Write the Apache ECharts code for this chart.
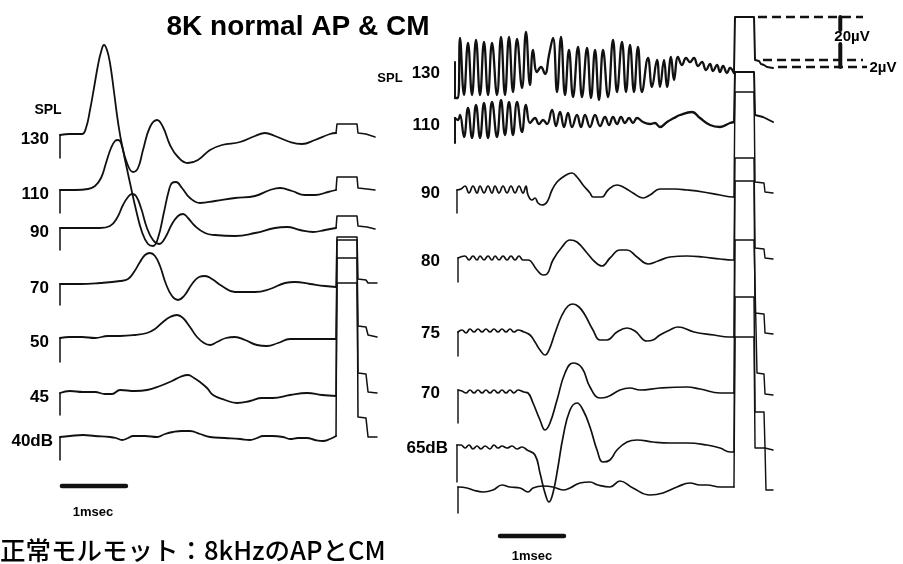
<!DOCTYPE html>
<html><head><meta charset="utf-8">
<script src="https://cdn.jsdelivr.net/npm/echarts@6/dist/echarts.min.js"></script>
<style>html,body{margin:0;padding:0;background:#fff}#c{width:903px;height:564px}</style>
</head><body><div id="c"></div>
<script>
// ---------- DATA (time in ms, deflection in display units, upward positive) ----------
const titleText = '8K normal AP & CM';
const captionText = '正常モルモット：8kHzのAPとCM';
const leftLabels = ['130', '110', '90', '70', '50', '45', '40dB'];
const rightLabels = ['130', '110', '90', '80', '75', '70', '65dB', ''];
const scaleBarMs = 1;
const calTexts = ['20µV', '2µV'];
const calLevels = [53, 10, 3];  // levels of the 130 dB CM calibration pulse

const L130 = [[0,-23],[0,0],[0.156,1],[0.344,1],[0.406,7],[0.469,25],[0.531,47],[0.594,70],[0.641,83],[0.688,90],[0.734,85],[0.781,72],[0.844,43],[0.906,13],[0.969,-10],[1.047,-28],[1.141,-37],[1.219,-33],[1.297,-15],[1.406,8],[1.516,15],[1.609,8],[1.719,-10],[1.844,-22],[2.0,-28],[2.156,-25],[2.344,-15],[2.531,-10],[2.813,-7],[3.047,-1],[3.203,2],[3.359,-1],[3.594,-7],[3.781,-9],[3.984,-5],[4.219,1],[4.313,2],[4.328,11],[4.641,11],[4.656,2],[4.781,1],[4.922,-2]];
const L110 = [[0,-23],[0,0],[0.234,0],[0.438,1],[0.547,4],[0.641,12],[0.719,27],[0.797,42],[0.859,49],[0.906,50],[0.953,47],[1.016,30],[1.094,7],[1.188,-20],[1.281,-42],[1.375,-54],[1.453,-56],[1.531,-48],[1.625,-22],[1.703,0],[1.75,7],[1.813,8],[1.906,2],[2.031,-8],[2.188,-13],[2.422,-11],[2.734,-8],[3.047,-6],[3.281,0],[3.438,2],[3.625,-1],[3.828,-5],[3.984,-5],[4.188,-2],[4.313,0],[4.328,13],[4.641,13],[4.656,2],[4.797,1],[4.922,0]];
const L90 = [[0,-22],[0,0],[0.313,0],[0.625,0],[0.781,2],[0.891,10],[0.984,23],[1.063,31],[1.125,34],[1.188,32],[1.266,20],[1.359,0],[1.453,-12],[1.547,-16],[1.641,-10],[1.75,4],[1.844,12],[1.922,14],[2.0,10],[2.109,2],[2.266,-5],[2.422,-7],[2.734,-8],[3.047,-5],[3.359,0],[3.547,1],[3.75,-2],[3.953,-4],[4.141,-2],[4.313,0],[4.328,12],[4.641,12],[4.656,2],[4.797,1],[4.922,-1]];
const L70 = [[0,-21],[0,0],[0.313,0],[0.625,1],[0.938,3],[1.063,5],[1.156,12],[1.25,22],[1.328,29],[1.406,31],[1.484,28],[1.563,18],[1.656,0],[1.75,-12],[1.844,-16],[1.938,-12],[2.063,0],[2.172,7],[2.266,8],[2.375,5],[2.531,-2],[2.734,-8],[3.047,-8],[3.281,-5],[3.516,1],[3.672,2],[3.906,0],[4.141,-2],[4.313,-3],[4.328,47],[4.641,47],[4.656,5],[4.781,4],[4.813,1],[4.953,1]];
const L50 = [[0,-24],[0,0],[0.156,1],[0.344,1],[0.547,0],[0.75,2],[0.938,2],[1.172,3],[1.359,5],[1.484,9],[1.609,16],[1.719,21],[1.828,23],[1.922,20],[2.031,11],[2.141,1],[2.25,-5],[2.344,-7],[2.453,-4],[2.594,0],[2.734,1],[2.891,-2],[3.078,-7],[3.234,-8],[3.406,-5],[3.594,-1],[3.828,-1],[4.109,-1],[4.313,-1],[4.328,80],[4.641,80],[4.656,12],[4.781,11],[4.813,3],[4.953,1]];
const L45 = [[0,-22],[0,0],[0.156,2],[0.359,1],[0.547,1],[0.703,-1],[0.813,-1],[0.938,3],[1.172,2],[1.359,3],[1.563,7],[1.75,12],[1.875,16],[2.0,18],[2.094,15],[2.188,11],[2.297,5],[2.391,-2],[2.578,-7],[2.766,-10],[2.969,-8],[3.156,-5],[3.328,-5],[3.594,-2],[3.859,0],[4.094,-2],[4.313,-3],[4.328,110],[4.641,110],[4.656,20],[4.781,19],[4.813,1],[4.953,0]];
const L40 = [[0,-23],[0,0],[0.156,1],[0.359,2],[0.547,1],[0.781,0],[0.875,-1],[0.969,-3],[1.063,-1],[1.141,1],[1.328,1],[1.516,0],[1.641,3],[1.766,5],[1.906,6],[2.031,6],[2.188,3],[2.344,0],[2.578,-1],[2.813,-2],[2.969,-3],[3.078,-1],[3.172,1],[3.313,1],[3.484,0],[3.594,-2],[3.719,-1],[3.859,-1],[3.984,-3],[4.109,-4],[4.219,-2],[4.313,1],[4.328,197],[4.641,197],[4.656,20],[4.781,19],[4.813,0],[4.953,0]];

const R130 = [[0,8],[0,-28],[0.047,-28],[0.078,32],[0.141,-25],[0.203,27],[0.266,-25],[0.328,30],[0.391,-25],[0.453,28],[0.516,-25],[0.578,27],[0.656,-25],[0.719,33],[0.781,-25],[0.844,33],[0.906,-22],[0.969,31],[1.047,-18],[1.109,38],[1.172,-15],[1.219,20],[1.281,-2],[1.344,3],[1.406,-4],[1.469,15],[1.531,32],[1.594,-22],[1.656,33],[1.719,-25],[1.781,20],[1.844,-27],[1.922,23],[1.984,-27],[2.063,22],[2.125,-28],[2.188,20],[2.25,-30],[2.313,20],[2.391,-27],[2.469,30],[2.531,-22],[2.609,28],[2.672,-22],[2.734,25],[2.797,-22],[2.859,23],[2.922,-22],[3.016,12],[3.078,-17],[3.156,10],[3.203,-17],[3.266,10],[3.313,-17],[3.375,13],[3.422,-10],[3.484,13],[3.547,5],[3.609,12],[3.672,8],[3.734,12],[3.797,4],[3.859,8],[3.922,0],[3.984,6],[4.031,-1],[4.094,5],[4.141,-2],[4.188,4],[4.25,-3],[4.297,2],[4.359,-3],[4.375,53],[4.672,53],[4.688,10],[4.75,9],[4.781,6],[4.828,5],[4.875,3],[4.969,2]];
const R110 = [[0,-21],[0,4],[0.047,2],[0.078,7],[0.141,-15],[0.203,14],[0.266,-16],[0.328,17],[0.391,-16],[0.453,19],[0.516,-16],[0.578,20],[0.656,-15],[0.719,22],[0.781,-13],[0.844,20],[0.906,-13],[0.969,20],[1.047,-10],[1.109,17],[1.172,-1],[1.25,4],[1.313,-2],[1.375,2],[1.438,-2],[1.516,12],[1.578,-4],[1.641,10],[1.703,-5],[1.766,9],[1.828,-5],[1.906,7],[1.969,-5],[2.031,7],[2.109,-5],[2.188,7],[2.266,-4],[2.344,5],[2.406,-3],[2.469,5],[2.531,-2],[2.594,5],[2.656,-1],[2.719,4],[2.781,-1],[2.844,4],[2.938,0],[3.047,-2],[3.125,-1],[3.203,-5],[3.313,0],[3.422,4],[3.516,7],[3.703,10],[3.828,4],[3.984,-3],[4.141,-5],[4.297,-1],[4.359,0],[4.375,50],[4.672,50],[4.688,7],[4.813,5],[4.969,0]];
const R90 = [[0.031,-23],[0.031,0],[0.094,1],[0.156,4],[0.219,-3],[0.281,4],[0.344,-3],[0.391,4],[0.453,-3],[0.516,4],[0.578,-3],[0.625,4],[0.688,-3],[0.75,4],[0.813,-3],[0.875,4],[0.938,-3],[1.0,4],[1.063,-3],[1.109,4],[1.141,-5],[1.203,-10],[1.25,-8],[1.297,-13],[1.359,-15],[1.438,-12],[1.516,0],[1.594,8],[1.688,13],[1.766,16],[1.828,17],[1.906,13],[2.0,5],[2.109,-3],[2.156,-7],[2.219,-7],[2.297,-7],[2.391,0],[2.531,5],[2.656,2],[2.781,-3],[2.938,-8],[3.047,-5],[3.203,1],[3.438,1],[3.625,0],[3.875,-2],[4.141,-5],[4.344,-7],[4.359,-7],[4.375,98],[4.672,98],[4.688,8],[4.828,7],[4.844,-2],[4.969,-3]];
const R80 = [[0.047,-24],[0.047,0],[0.156,2],[0.219,-2],[0.281,2],[0.344,-2],[0.391,2],[0.453,-2],[0.516,2],[0.578,-2],[0.625,2],[0.688,-2],[0.75,2],[0.813,-2],[0.875,2],[0.938,-2],[1.0,2],[1.063,-2],[1.141,-2],[1.281,-12],[1.375,-17],[1.438,-16],[1.531,-2],[1.672,11],[1.797,18],[1.906,16],[2.063,5],[2.188,-4],[2.297,-8],[2.422,0],[2.578,8],[2.688,8],[2.844,1],[3.016,-6],[3.172,-3],[3.359,1],[3.625,2],[3.875,1],[4.141,-1],[4.328,-2],[4.359,-2],[4.375,100],[4.672,100],[4.688,10],[4.828,9],[4.844,0],[4.969,-1]];
const R75 = [[0.047,-26],[0.047,-2],[0.109,0],[0.172,-3],[0.234,1],[0.297,-2],[0.359,1],[0.422,-2],[0.484,1],[0.547,-2],[0.609,1],[0.672,-2],[0.734,1],[0.797,-2],[0.859,1],[0.922,-2],[0.984,0],[1.078,-2],[1.172,-5],[1.25,-12],[1.328,-20],[1.406,-25],[1.469,-20],[1.563,-3],[1.672,15],[1.766,24],[1.844,26],[1.938,23],[2.031,15],[2.156,0],[2.266,-10],[2.375,-10],[2.531,-2],[2.688,2],[2.813,-1],[3.0,-11],[3.094,-10],[3.203,-5],[3.359,0],[3.484,3],[3.734,-2],[4.047,-5],[4.281,-7],[4.359,-7],[4.375,149],[4.672,149],[4.688,17],[4.828,16],[4.844,-3],[4.969,-4]];
const R70 = [[0.047,-33],[0.047,0],[0.109,-1],[0.172,-3],[0.234,0],[0.297,-3],[0.359,0],[0.422,-3],[0.484,0],[0.547,-3],[0.609,0],[0.672,-3],[0.734,0],[0.797,-3],[0.859,0],[0.922,-3],[0.984,0],[1.078,-2],[1.141,-3],[1.219,-13],[1.328,-30],[1.406,-40],[1.484,-33],[1.594,-10],[1.719,17],[1.844,27],[1.984,22],[2.109,3],[2.266,-8],[2.375,-7],[2.578,0],[2.734,2],[2.891,0],[3.203,2],[3.625,3],[3.828,1],[4.141,-3],[4.328,-3],[4.359,-3],[4.375,150],[4.672,150],[4.719,17],[4.828,16],[4.844,-4],[4.969,-5]];
const R65 = [[0.031,-37],[0.031,0],[0.094,0],[0.156,-3],[0.219,0],[0.281,-4],[0.344,-1],[0.406,-4],[0.469,-1],[0.547,-4],[0.609,0],[0.672,-3],[0.734,-1],[0.813,-3],[0.891,-1],[0.969,-4],[1.047,-2],[1.125,-5],[1.25,-10],[1.328,-28],[1.406,-48],[1.469,-57],[1.531,-48],[1.609,-22],[1.688,8],[1.797,35],[1.906,42],[2.0,35],[2.109,18],[2.219,-5],[2.313,-17],[2.422,-15],[2.531,-5],[2.688,3],[2.844,5],[3.094,3],[3.359,2],[3.625,2],[3.938,0],[4.141,-3],[4.297,-7],[4.344,-7],[4.359,-7],[4.375,148],[4.672,148],[4.688,33],[4.828,33],[4.844,-3],[4.875,-5],[4.969,-5]];
const RB = [[0.047,-23],[0.047,3],[0.188,2],[0.281,0],[0.438,-2],[0.594,0],[0.734,5],[0.859,3],[1.016,2],[1.141,-2],[1.219,2],[1.375,4],[1.531,3],[1.688,0],[1.797,2],[1.953,7],[2.109,8],[2.234,5],[2.422,3],[2.578,9],[2.781,2],[3.047,-5],[3.25,-3],[3.469,3],[3.672,7],[3.828,5],[3.938,5],[4.141,3],[4.344,3],[4.359,3],[4.375,153],[4.672,153],[4.688,42],[4.844,42],[4.859,0],[4.969,0]];

const leftTraces = [L130, L110, L90, L70, L50, L45, L40];
const rightTraces = [R130, R110, R90, R80, R75, R70, R65, RB];

// ---------- LAYOUT ----------
const INK = '#111';
const leftBase = [135, 190, 228, 284, 338, 393, 437];
const rightBase = [70, 122, 190, 258, 330, 390, 445, 490];
const leftOnset = 4.313, rightOnset = 4.359;
const leftBar = {t0: 0.03, y: 486}, rightBar = {t0: 0.703, y: 536};

const chart = echarts.init(document.getElementById('c'), null, {renderer: 'canvas'});
const series = [];
function line(grid, pts, smooth, width, extra) {
  series.push(Object.assign({
    type: 'line', xAxisIndex: grid, yAxisIndex: grid, data: pts, symbol: 'none',
    smooth: smooth, clip: false, silent: true, animation: false,
    lineStyle: {color: INK, width: width, cap: 'round', join: 'round'}
  }, extra || {}));
}
function addTrace(grid, data, base, onset, width) {
  const pts = data.map(([t, v]) => [t, base - v]);
  const k = pts.findIndex(p => p[0] >= onset - 1e-6);
  line(grid, pts.slice(0, 2), false, width * 0.85);
  line(grid, pts.slice(1, k + 1), 0.45, width);
  line(grid, pts.slice(k), false, width * 0.85);
}
leftTraces.forEach((d, i) => addTrace(0, d, leftBase[i], leftOnset, 1.8));
rightTraces.forEach((d, i) => addTrace(1, d, rightBase[i], rightOnset, i < 2 ? 2.3 : 1.7));

// scale bars (1 ms)
line(0, [[leftBar.t0, leftBar.y], [leftBar.t0 + scaleBarMs, leftBar.y]], false, 4.5);
line(1, [[rightBar.t0, rightBar.y], [rightBar.t0 + scaleBarMs, rightBar.y]], false, 4.5);

// calibration dashed lines (20 µV / 2 µV) from the 130 dB CM pulse levels
const calY = calLevels.map(v => rightBase[0] - v);
const dash = {lineStyle: {color: INK, width: 2.4, type: [9, 5]}};
line(1, [[4.734, calY[0]], [6.375, calY[0]]], false, 2.4, dash);
line(1, [[4.813, calY[1]], [6.375, calY[1]]], false, 2.4, dash);
line(1, [[5.047, calY[2]], [6.438, calY[2]]], false, 2.4, dash);
const barT = 6.02;
line(1, [[barT, calY[0]], [barT, calY[0] + 13]], false, 4);
line(1, [[barT, calY[0] + 27], [barT, calY[2]]], false, 4);

const FONT = '"Liberation Sans", Arial, Helvetica, sans-serif';
function txt(x, y, text, size, align, extraFont) {
  return {type: 'text', x: x, y: y, silent: true, style: {
    text: text, fill: '#000', font: 'bold ' + size + 'px ' + (extraFont || FONT),
    align: align, verticalAlign: 'middle', textAlign: align, textVerticalAlign: 'middle'}};
}
const graphic = [];
graphic.push(txt(298, 27, titleText, 28, 'center'));
graphic.push(txt(48, 110, 'SPL', 14, 'center'));
leftLabels.forEach((s, i) => graphic.push(txt(s.length > 3 ? 53 : 49, leftBase[i] + 4, s, 17, 'right')));
graphic.push(txt(390, 78, 'SPL', 13, 'center'));
rightLabels.forEach((s, i) => { if (s) graphic.push(txt(s.length > 3 ? 448 : 440, rightBase[i] + 3, s, 17, 'right')); });
graphic.push(txt(93, 512, '1msec', 13, 'center'));
graphic.push(txt(532, 556, '1msec', 13, 'center'));
graphic.push(txt(852, 37, calTexts[0], 15, 'center'));
graphic.push(txt(883, 68, calTexts[1], 15, 'center'));
graphic.push({type: 'text', x: 0, y: 550, silent: true, style: {
  text: captionText, fill: '#000', font: '500 25.5px "Noto Sans CJK JP", sans-serif',
  align: 'left', verticalAlign: 'middle', textAlign: 'left', textVerticalAlign: 'middle'}});

chart.setOption({
  animation: false,
  backgroundColor: '#fff',
  grid: [
    {left: 60, top: 0, width: 352, height: 564},
    {left: 455, top: 0, width: 448, height: 564}
  ],
  xAxis: [
    {type: 'value', gridIndex: 0, min: 0, max: 5.5, show: false},
    {type: 'value', gridIndex: 1, min: 0, max: 7, show: false}
  ],
  yAxis: [
    {type: 'value', gridIndex: 0, min: 0, max: 564, inverse: true, show: false},
    {type: 'value', gridIndex: 1, min: 0, max: 564, inverse: true, show: false}
  ],
  series: series,
  graphic: graphic
});
</script>
</body></html>
